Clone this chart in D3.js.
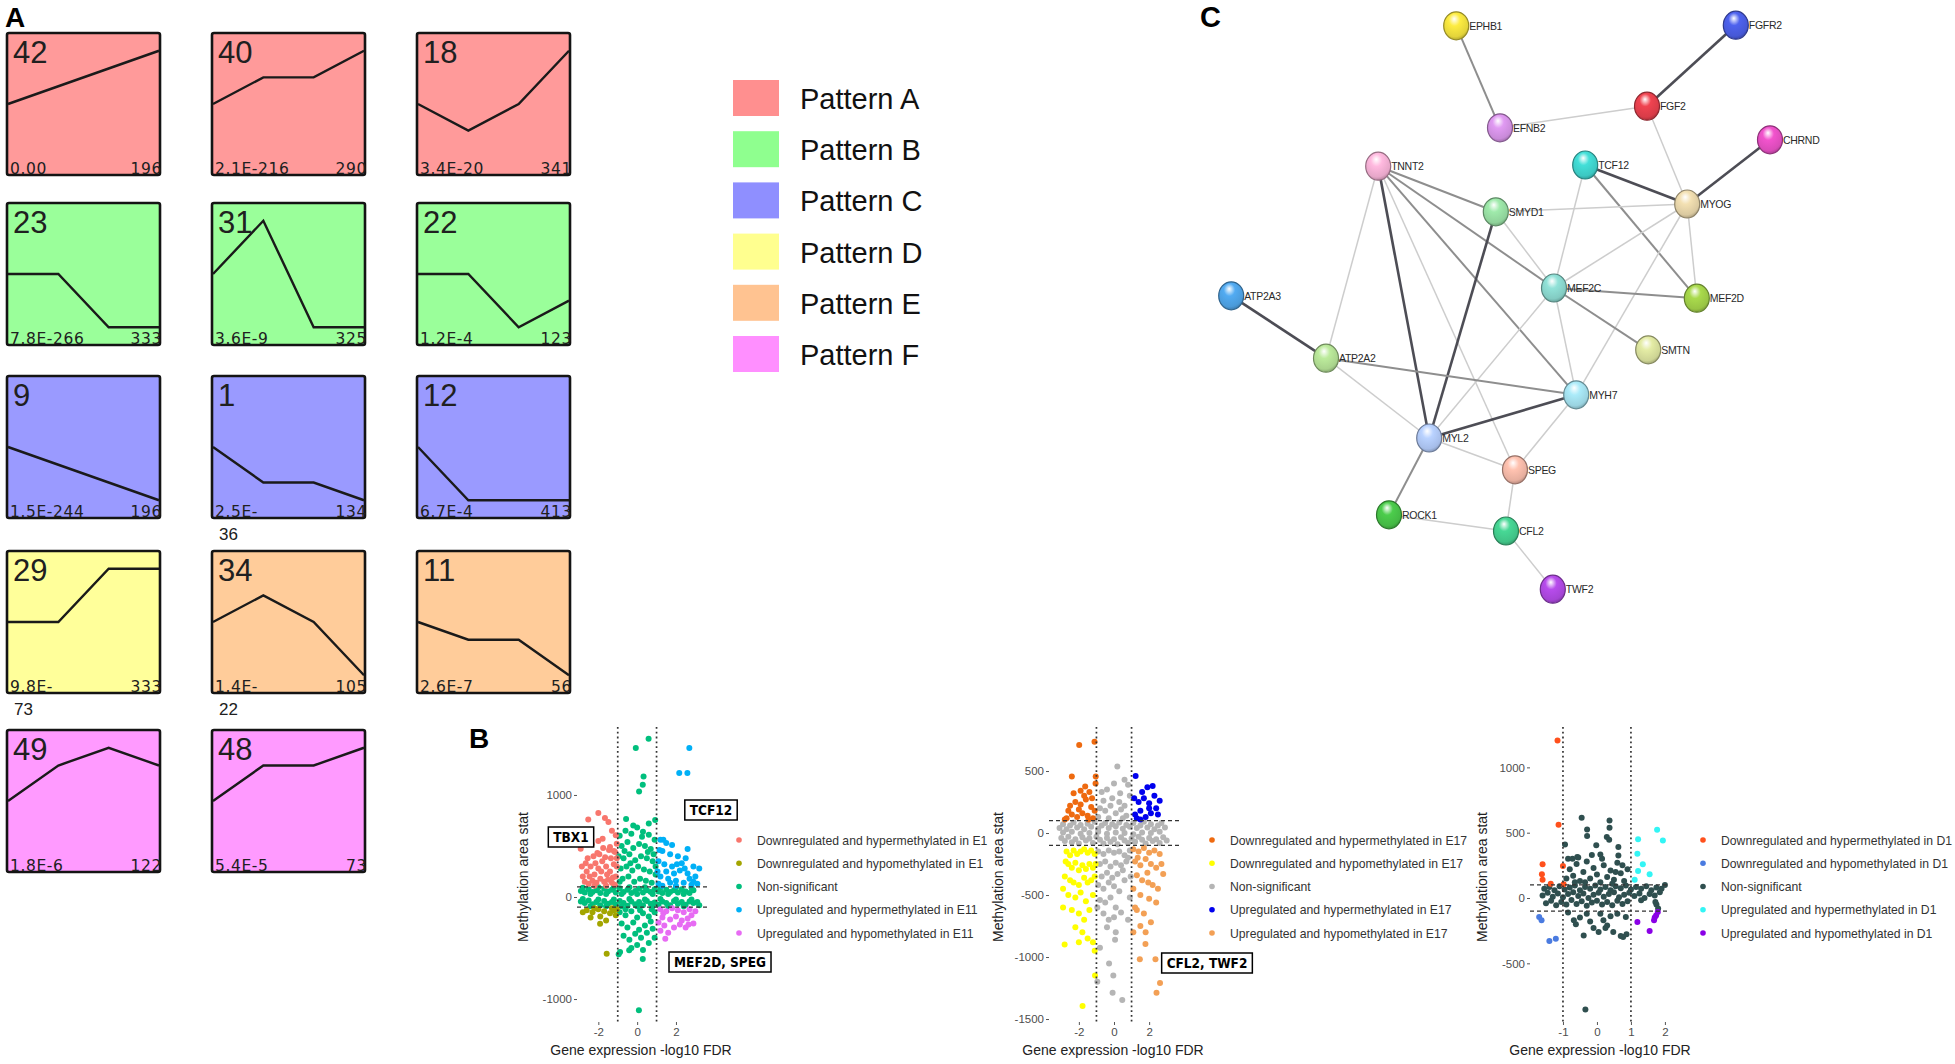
<!DOCTYPE html>
<html>
<head>
<meta charset="utf-8">
<title>Expression patterns, methylation and network</title>
<script src="https://cdn.jsdelivr.net/npm/d3@7"></script>
<style>
  body { margin: 0; background: #fff; }
  svg { display: block; }
</style>
</head>
<body>
<svg id="fig" width="1955" height="1064"></svg>
<script>
// ---------------- data: panel A (STEM profiles) ----------------
const patternNames = ["Pattern A", "Pattern B", "Pattern C", "Pattern D", "Pattern E", "Pattern F"];
const patternFill = ["#ff9a9a", "#9aff9a", "#9a9aff", "#ffff9a", "#ffcc9a", "#ff9aff"];
const patternSwatch = ["#ff8f8f", "#8fff8f", "#8f8fff", "#ffff8f", "#ffc391", "#ff8fff"];

const profileId = [42, 40, 18, 23, 31, 22, 9, 1, 12, 29, 34, 11, 49, 48];
const profilePattern = [0, 0, 0, 1, 1, 1, 2, 2, 2, 3, 4, 4, 5, 5];
const profileValues = [
  [0, 1, 2, 3], [0, 1, 1, 2], [0, -1, 0, 2],
  [0, 0, -1, -1], [0, 1, -1, -1], [0, 0, -2, -1],
  [0, -1, -2, -3], [0, -2, -2, -3], [0, -1, -1, -1],
  [0, 0, 1, 1], [0, 1, 0, -2], [0, -1, -1, -3],
  [0, 2, 3, 2], [0, 2, 2, 3]
];
const profilePval = ["0.00", "2.1E-216", "3.4E-20", "7.8E-266", "3.6E-9", "1.2E-4", "1.5E-244", "2.5E-", "6.7E-4", "9.8E-", "1.4E-", "2.6E-7", "1.8E-6", "5.4E-5"];
const profilePvalWrap = ["", "", "", "", "", "", "", "36", "", "73", "22", "", "", ""];
const profileGenes = [196, 290, 341, 333, 325, 123, 196, 134, 413, 333, 105, 56, 122, 73];

// ---------------- data: panel B (scatter plots) ----------------
const e11Labels = ["Downregulated and hypermethylated in E1", "Downregulated and hypomethylated in E1", "Non-significant", "Upregulated and hypermethylated in E11", "Upregulated and hypomethylated in E11"];
const e11Colors = ["#F8766D", "#A3A500", "#00BF7D", "#00B0F6", "#E76BF3"];
const e11DownHyper = [[-2.0,824],[-2.52,759],[-1.66,775],[-1.48,736],[-1.1,605],[-1.05,523],[-1.78,572],[-2.91,474],[-2.34,517],[-2.05,432],[-1.4,490],[-1.14,441],[-2.8,200],[-2.6,250],[-2.4,300],[-2.2,220],[-2.0,280],[-1.8,350],[-1.6,300],[-1.4,250],[-1.2,320],[-1.1,200],[-2.7,150],[-2.5,130],[-2.3,160],[-2.1,140],[-1.9,180],[-1.7,150],[-1.5,170],[-1.3,140],[-1.15,120],[-2.55,380],[-2.25,400],[-1.95,420],[-1.65,390],[-1.35,380],[-1.2,450],[-2.45,200],[-2.15,330],[-1.85,250],[-1.55,220],[-1.25,190],[-2.85,300],[-1.05,300],[-1.45,460],[-1.75,480],[-2.0,550],[-1.3,650],[-2.65,330],[-1.6,110],[-2.2,110],[-1.05,380]];
const e11DownHypo = [[-2.6,-130],[-2.3,-150],[-2.0,-120],[-1.7,-140],[-1.4,-160],[-1.2,-130],[-2.4,-200],[-1.9,-190],[-1.1,-180],[-1.6,-230],[-1.91,-262],[-1.57,-556],[-1.3,-110],[-2.2,-110],[-2.8,-150],[-1.05,-120]];
const e11NonSig = [[-2.9,60],[-2.7,45],[-2.5,75],[-2.3,50],[-2.1,65],[-1.9,40],[-1.7,80],[-1.5,55],[-1.3,70],[-1.1,45],[-0.9,85],[-0.7,50],[-0.5,70],[-0.3,40],[-0.1,60],[0.1,80],[0.3,45],[0.5,65],[0.7,50],[0.9,75],[1.1,55],[1.3,40],[1.5,70],[1.7,50],[1.9,65],[2.1,45],[2.3,75],[2.5,55],[2.7,40],[2.9,65],[-2.8,90],[-2.4,30],[-2.0,95],[-1.6,30],[-1.2,95],[-0.8,30],[-0.4,95],[0.0,30],[0.4,95],[0.8,30],[1.2,90],[1.6,30],[2.0,95],[2.4,30],[2.8,90],
  [-2.9,-45],[-2.7,-60],[-2.5,-35],[-2.3,-70],[-2.1,-50],[-1.9,-80],[-1.7,-40],[-1.5,-65],[-1.3,-50],[-1.1,-75],[-0.9,-40],[-0.7,-60],[-0.5,-85],[-0.3,-45],[-0.1,-70],[0.1,-50],[0.3,-80],[0.5,-40],[0.7,-65],[0.9,-55],[1.1,-75],[1.3,-45],[1.5,-60],[1.7,-80],[1.9,-40],[2.1,-65],[2.3,-50],[2.5,-75],[2.7,-45],[2.9,-60],[3.1,-50],[-2.8,-20],[-2.4,-90],[-2.0,-25],[-1.6,-90],[-1.2,-25],[-0.8,-90],[-0.4,-20],[0.0,-90],[0.4,-25],[0.8,-90],[1.2,-20],[1.6,-90],[2.0,-25],[2.4,-90],[2.8,-25],[3.2,-80],
  [-0.9,600],[-0.6,650],[-0.3,620],[0.0,680],[0.3,640],[0.6,610],[0.9,560],[-0.8,500],[-0.5,540],[-0.2,480],[0.1,520],[0.4,500],[0.7,470],[-0.95,400],[-0.7,380],[-0.4,420],[-0.1,360],[0.2,400],[0.5,380],[0.8,350],[-0.85,280],[-0.55,300],[-0.25,260],[0.05,300],[0.35,270],[0.65,250],[0.95,220],[-0.75,180],[-0.45,200],[-0.15,150],[0.15,180],[0.45,160],[0.75,140],[-0.65,450],[-0.35,330],[0.25,590],[0.55,440],[0.85,420],[-0.9,150],[0.95,300],[-0.2,700],[0.6,720],
  [-0.9,-150],[-0.6,-180],[-0.3,-140],[0.0,-200],[0.3,-160],[0.6,-190],[0.9,-150],[-0.8,-260],[-0.5,-300],[-0.2,-250],[0.1,-320],[0.4,-280],[0.7,-240],[-0.7,-380],[-0.4,-420],[-0.1,-360],[0.2,-400],[0.5,-350],[0.8,-310],[-0.3,-500],[0.0,-470],[0.3,-520],[0.6,-450],[0.9,-400],[-0.6,-120],[0.15,-130],[0.75,-120],
  [-0.57,764],[0.93,754],[0.59,1551],[-0.07,1460],[0.33,1181],[0.29,1099],[0.1,1033],[0.09,-1109],[0.29,-607],[-0.41,-523],[-0.88,-540],[-0.95,-560]];
const e11UpHyper = [[2.69,1460],[2.17,1214],[2.59,1214],[1.2,560],[1.5,530],[1.8,510],[2.6,470],[1.3,450],[1.7,420],[2.1,400],[2.5,380],[2.9,300],[3.2,280],[1.1,350],[1.4,320],[1.8,300],[2.2,260],[2.6,230],[3.0,200],[1.2,200],[1.6,180],[2.0,160],[2.4,140],[2.8,120],[1.1,130],[1.5,250],[1.9,230],[2.3,330],[2.7,180],[1.3,110],[2.0,110],[3.1,130],[1.15,460],[1.35,560],[2.05,320],[2.45,280],[1.7,140],[2.9,150],[1.05,250]];
const e11UpHypo = [[1.2,-120],[1.5,-140],[1.8,-110],[2.1,-130],[2.4,-150],[2.7,-120],[1.3,-200],[1.7,-220],[2.0,-190],[2.3,-230],[2.6,-210],[2.9,-260],[1.4,-280],[1.9,-300],[2.5,-300],[1.2,-330],[1.6,-350],[2.2,-270],[1.45,-410],[2.8,-180],[1.1,-250],[3.0,-140],[1.35,-160],[2.65,-270]];
const e11Genes = ["TBX1", "TCF12", "MEF2D, SPEG"];

const e17Labels = ["Downregulated and hypermethylated in E17", "Downregulated and hypomethylated in E17", "Non-significant", "Upregulated and hypermethylated in E17", "Upregulated and hypomethylated in E17"];
const e17Colors = ["#EE6A10", "#FFFF00", "#B5B5B5", "#0000EE", "#F3A055"];
const e17DownHyper = [[-1.98,710],[-1.11,736],[-2.4,455],[-1.04,455],[-1.64,376],[-2.7,120],[-2.4,150],[-2.1,130],[-1.8,160],[-1.5,140],[-1.2,120],[-2.5,220],[-2.2,250],[-1.9,230],[-1.6,270],[-1.3,210],[-2.3,320],[-1.7,300],[-1.4,330],[-2.0,190],[-1.1,180],[-2.6,180],[-1.9,340],[-1.25,280],[-1.05,400],[-2.8,110],[-1.45,110]];
const e17DownHypo = [[-2.9,-450],[-2.7,-150],[-2.5,-180],[-2.3,-140],[-2.1,-170],[-1.9,-150],[-1.7,-130],[-1.5,-160],[-1.3,-140],[-1.1,-170],[-2.6,-250],[-2.4,-280],[-2.2,-240],[-2.0,-300],[-1.8,-260],[-1.6,-290],[-1.4,-250],[-1.2,-280],[-2.8,-350],[-2.5,-380],[-2.3,-400],[-2.0,-420],[-1.7,-360],[-1.5,-400],[-1.3,-380],[-1.1,-350],[-2.6,-500],[-2.2,-520],[-1.9,-480],[-1.6,-550],[-1.2,-500],[-2.9,-600],[-2.4,-620],[-2.0,-650],[-1.7,-700],[-1.4,-620],[-2.2,-760],[-1.8,-800],[-1.5,-850],[-2.81,-900],[-1.2,-880],[-1.79,-1394],[-1.08,-1150],[-1.1,-950],[-2.0,-880],[-2.75,-230],[-1.05,-250]];
const e17NonSig = [[-3.1,40],[-2.9,70],[-2.7,30],[-2.5,60],[-2.3,85],[-2.1,45],[-1.9,65],[-1.7,30],[-1.5,75],[-1.3,50],[-1.1,90],[-0.9,35],[-0.7,60],[-0.5,80],[-0.3,40],[-0.1,70],[0.1,55],[0.3,85],[0.5,35],[0.7,65],[0.9,50],[1.1,80],[1.3,40],[1.5,60],[1.7,90],[1.9,45],[2.1,70],[2.3,30],[2.5,60],[2.7,80],[2.9,45],
  [-3.0,-40],[-2.8,-65],[-2.6,-30],[-2.4,-75],[-2.2,-50],[-2.0,-85],[-1.8,-35],[-1.6,-60],[-1.4,-45],[-1.2,-80],[-1.0,-30],[-0.8,-55],[-0.6,-85],[-0.4,-40],[-0.2,-70],[0.0,-50],[0.2,-90],[0.4,-35],[0.6,-60],[0.8,-80],[1.0,-45],[1.2,-70],[1.4,-30],[1.6,-55],[1.8,-85],[2.0,-40],[2.2,-65],[2.4,-50],[2.6,-80],[2.8,-35],[3.0,-60],
  [-2.9,5],[-2.4,10],[-1.9,-5],[-1.4,0],[-0.9,10],[-0.4,-5],[0.1,5],[0.6,0],[1.1,-10],[1.6,5],[2.1,0],[2.6,10],
  [-0.7,330],[-0.4,350],[-0.1,280],[0.3,250],[0.6,220],[0.9,300],[-0.8,200],[-0.5,180],[-0.2,220],[0.1,160],[0.4,190],[0.7,140],[-0.9,130],[-0.3,120],[0.5,120],[0.19,537],[0.6,430],[0.8,390],[-0.6,260],[0.0,400],[0.35,320],
  [-0.9,-150],[-0.6,-170],[-0.3,-140],[0.0,-160],[0.3,-150],[0.6,-180],[0.9,-140],[-0.8,-250],[-0.5,-230],[-0.2,-270],[0.1,-240],[0.4,-260],[0.7,-230],[-0.7,-350],[-0.4,-320],[-0.1,-360],[0.2,-330],[0.5,-300],[-0.9,-420],[-0.6,-450],[-0.3,-400],[0.0,-430],[0.3,-470],[-0.8,-540],[-0.5,-560],[-0.2,-520],[0.1,-600],[-0.6,-650],[-0.3,-700],[0.0,-680],[0.4,-640],[-0.4,-760],[0.1,-800],[0.06,-860],[0.8,-700],[-0.8,-926],[-0.28,-1052],[-0.04,-1150],[-0.08,-1289],[0.47,-1347],[-0.95,-1200],[0.8,-200],[0.95,-350],[0.6,-380],[-0.95,-600],[0.9,-520]];
const e17UpHyper = [[1.23,460],[1.2,150],[1.5,180],[1.8,130],[2.1,160],[2.4,200],[1.4,250],[1.7,280],[2.0,240],[2.3,300],[2.6,260],[1.6,330],[1.9,370],[2.2,380],[1.3,120],[2.0,200],[1.5,110],[1.15,280],[2.5,150]];
const e17UpHypo = [[1.1,-130],[1.4,-150],[1.7,-120],[2.0,-160],[2.3,-140],[2.6,-170],[1.2,-230],[1.5,-260],[1.8,-210],[2.1,-250],[2.4,-280],[2.8,-330],[1.3,-340],[1.6,-380],[1.9,-320],[2.2,-420],[2.5,-450],[1.1,-450],[1.5,-500],[2.0,-530],[2.4,-560],[1.3,-620],[1.7,-650],[2.1,-720],[1.5,-750],[1.8,-800],[1.79,-894],[1.47,-1018],[2.36,-1018],[2.62,-1210],[2.42,-1289],[1.2,-600],[1.1,-800],[2.7,-250],[1.35,-200],[1.95,-400]];
const e17Genes = ["CFL2, TWF2"];

const d1Labels = ["Downregulated and hypermethylated in D1", "Downregulated and hypomethylated in D1", "Non-significant", "Upregulated and hypermethylated in D1", "Upregulated and hypomethylated in D1"];
const d1Colors = ["#FF501C", "#4A7BE0", "#2F4F4F", "#33F5F5", "#8A00E6"];
const d1DownHyper = [[-1.16,1206],[-1.13,561],[-1.6,258],[-1.62,181],[-1.36,110],[-1.6,140],[-1.0,245],[-0.98,105]];
const d1DownHypo = [[-1.7,-145],[-1.63,-171],[-1.4,-329],[-1.21,-311]];
const d1NonSig = [[-1.55,70],[-1.4,85],[-1.25,60],[-1.1,90],[-0.95,65],[-0.8,80],[-0.65,95],[-0.5,60],[-0.35,85],[-0.2,70],[-0.05,95],[0.1,65],[0.25,85],[0.4,60],[0.55,90],[0.7,75],[0.85,95],[1.0,65],[1.15,85],[1.3,70],[1.45,90],[1.6,60],[1.75,80],[1.9,70],[2.0,100],
  [-1.6,20],[-1.45,40],[-1.3,10],[-1.15,35],[-1.0,5],[-0.85,30],[-0.7,45],[-0.55,15],[-0.4,35],[-0.25,0],[-0.1,25],[0.05,40],[0.2,10],[0.35,30],[0.5,45],[0.65,5],[0.8,25],[0.95,40],[1.1,15],[1.25,35],[1.4,0],[1.55,30],[1.7,20],[1.85,45],
  [-1.5,-40],[-1.35,-20],[-1.2,-55],[-1.05,-30],[-0.9,-50],[-0.75,-15],[-0.6,-45],[-0.45,-25],[-0.3,-60],[-0.15,-35],[0.0,-20],[0.15,-50],[0.3,-30],[0.45,-55],[0.6,-20],[0.75,-45],[0.9,-25],[1.3,-18],[1.75,-50],[1.8,-80],[1.72,-30],
  [-0.9,150],[-0.8,220],[-0.7,170],[-0.6,260],[-0.5,130],[-0.4,200],[-0.3,280],[-0.2,150],[-0.1,230],[0.0,180],[0.1,120],[0.2,250],[0.3,160],[0.4,210],[0.5,140],[0.6,270],[0.7,190],[0.8,130],[0.9,220],[-0.85,300],[-0.55,310],[-0.35,120],[0.15,300],[0.45,110],[0.75,250],[-0.45,615],[-0.29,525],[-0.29,474],[-0.94,410],[-0.02,403],[0.1,334],[0.37,594],[0.37,538],[0.29,467],[0.36,446],[0.63,390],[0.63,326],[-0.58,314],[-0.72,301],[-0.65,120],[0.55,200],[-0.15,330],
  [-0.68,-171],[-0.62,-200],[-0.39,-286],[-0.3,-120],[-0.1,-230],[0.05,-260],[0.19,-171],[0.3,-210],[0.48,-260],[0.6,-120],[0.77,-298],[0.87,-278],[0.85,-145],[-0.5,-150],[0.1,-120],[-0.34,-854],[-0.85,-110],[-0.2,-180],[0.7,-290],[0.4,-140],[0.25,-230]];
const d1UpHyper = [[1.77,523],[1.94,441],[1.21,449],[1.19,339],[1.35,258],[1.21,207],[1.55,181],[1.11,140]];
const d1UpHypo = [[1.19,-184],[1.55,-252],[1.68,-171],[1.74,-133],[1.79,-107],[1.7,-150]];

// ---------------- data: panel C (STRING network) ----------------
const geneNames = ["EPHB1","FGFR2","FGF2","EFNB2","CHRND","TNNT2","TCF12","MYOG","SMYD1","ATP2A3","MEF2C","MEF2D","SMTN","ATP2A2","MYH7","MYL2","SPEG","ROCK1","CFL2","TWF2"];
// layout units (0-100)
const geneX = [42.7, 89.3, 74.5, 50.0, 95.0, 29.7, 64.2, 81.2, 49.3, 5.2, 59.0, 82.8, 74.7, 21.0, 62.7, 38.2, 52.5, 31.5, 51.0, 58.8];
const geneY = [4.3, 4.2, 17.7, 21.3, 23.3, 27.7, 27.5, 34.0, 35.3, 49.3, 48.0, 49.7, 58.3, 59.7, 65.8, 73.0, 78.3, 85.8, 88.5, 98.2];
const geneColors = ["#e3d43a","#4658d6","#d83c48","#c98ad9","#d94bb8","#e6a6c8","#3cc8c2","#dac9a0","#8fd29a","#4a9ad9","#82cbc2","#98c444","#cdd494","#a9d38c","#9ad3e0","#a6bde9","#e6ae9e","#44b844","#40c286","#a444d4"];
const edgeFrom = ["EPHB1","FGFR2","EFNB2","FGF2","CHRND","TCF12","TCF12","TCF12","MYOG","MYOG","MYOG","MYOG","TNNT2","TNNT2","TNNT2","TNNT2","TNNT2","TNNT2","SMYD1","SMYD1","MEF2C","MEF2C","MEF2C","MEF2C","ATP2A3","ATP2A2","ATP2A2","MYL2","MYL2","MYL2","MYH7","SPEG","ROCK1","CFL2"];
const edgeTo   = ["EFNB2","FGF2","FGF2","MYOG","MYOG","MYOG","MEF2D","MEF2C","SMYD1","MEF2C","MEF2D","MYH7","SMYD1","MEF2C","MYH7","MYL2","ATP2A2","SPEG","MYL2","MEF2C","MEF2D","SMTN","MYL2","MYH7","ATP2A2","MYH7","MYL2","MYH7","SPEG","ROCK1","SPEG","CFL2","CFL2","TWF2"];
const edgeScore = [2,3,1,1,3,3,2,1,1,1,1,1,2,2,2,3,1,1,3,1,2,2,1,1,3,2,1,3,1,2,1,1,1,1];

// ---------------- drawing ----------------
const svg = d3.select("#fig");
const defs = svg.append("defs");

function panelLabel(t, x, y, size) {
  svg.append("text").attr("x", x).attr("y", y).text(t)
    .style("font-family", "Liberation Sans, Arial, sans-serif")
    .style("font-weight", "bold").style("font-size", size + "px").attr("fill", "#000");
}
panelLabel("A", 5, 27, 28);
panelLabel("B", 469, 748, 28);
panelLabel("C", 1200, 27, 29);

// ----- panel A boxes -----
const boxW = 153, boxH = 142;
const colX = d3.scalePoint().domain([0, 1, 2]).range([7, 417]);
const rowY = [33, 203, 376, 551, 730];

const boxes = svg.append("g").attr("class", "profiles");
profileId.forEach((id, i) => {
  const bx = colX(i % 3), by = rowY[Math.floor(i / 3)];
  const g = boxes.append("g");
  g.append("rect").attr("x", bx).attr("y", by).attr("width", boxW).attr("height", boxH)
    .attr("rx", 2).attr("fill", patternFill[profilePattern[i]])
    .attr("stroke", "#141414").attr("stroke-width", 2.6);
  const vals = profileValues[i];
  const m = d3.max(vals, v => Math.abs(v));
  const x = d3.scalePoint().domain(d3.range(vals.length)).range([bx + 1, bx + boxW - 1]);
  const y = d3.scaleLinear().domain([-m, m]).range([by + boxH * 0.875, by + boxH * 0.125]);
  g.append("path").datum(vals)
    .attr("d", d3.line().x((d, k) => x(k)).y(d => y(d)))
    .attr("fill", "none").attr("stroke", "#1a1a1a").attr("stroke-width", 2.4);
  g.append("text").attr("x", bx + 6).attr("y", by + 30).text(id)
    .style("font-family", "Liberation Sans, Arial, sans-serif").style("font-size", "31px").attr("fill", "#202020");
  const small = sel => sel.style("font-family", "DejaVu Sans, Verdana, sans-serif")
    .style("font-size", "15.5px").style("letter-spacing", "0.6px").attr("fill", "#202020");
  g.append("text").attr("x", bx + 3).attr("y", by + boxH - 1).text(profilePval[i]).call(small);
  g.append("text").attr("x", bx + boxW + 2).attr("y", by + boxH - 1).attr("text-anchor", "end")
    .text(profileGenes[i]).call(small);
  if (profilePvalWrap[i]) {
    g.append("text").attr("x", bx + 7).attr("y", by + boxH + 22).text(profilePvalWrap[i])
      .style("font-family", "Liberation Sans, Arial, sans-serif").style("font-size", "17px").attr("fill", "#202020");
  }
});

// pattern legend
const legY = d3.scalePoint().domain(patternNames).range([80, 336]);
const pleg = svg.append("g").attr("class", "pattern-legend");
patternNames.forEach((p, i) => {
  pleg.append("rect").attr("x", 733).attr("y", legY(p)).attr("width", 46).attr("height", 36)
    .attr("fill", patternSwatch[i]);
  pleg.append("text").attr("x", 800).attr("y", legY(p) + 29).text(p)
    .style("font-family", "Liberation Sans, Arial, sans-serif").style("font-size", "29px").attr("fill", "#111");
});

// ----- panel B scatter plots -----
function scatter(cfg) {
  const g = svg.append("g");
  const x = d3.scaleLinear().domain(cfg.xDomain).range(cfg.xRange);
  const y = d3.scaleLinear().domain(cfg.yDomain).range([1022, 727]);
  const font = "Liberation Sans, Arial, sans-serif";

  // points: non-significant first, then the significant groups
  const order = [2, 0, 1, 3, 4];
  order.forEach(k => {
    g.append("g").selectAll("circle").data(cfg.series[k]).join("circle")
      .attr("cx", d => x(d[0])).attr("cy", d => y(d[1])).attr("r", 3)
      .attr("fill", cfg.colors[k]);
  });

  // threshold lines
  [-1, 1].forEach(v => g.append("line")
    .attr("x1", x(v)).attr("x2", x(v)).attr("y1", y.range()[1]).attr("y2", y.range()[0])
    .attr("stroke", "#333").attr("stroke-width", 1.7).attr("stroke-dasharray", "1.8,3"));
  [-100, 100].forEach(v => g.append("line")
    .attr("x1", x.range()[0]).attr("x2", x.range()[1]).attr("y1", y(v)).attr("y2", y(v))
    .attr("stroke", "#333").attr("stroke-width", 1.3).attr("stroke-dasharray", "4,3"));

  // axes without axis lines (ggplot style)
  const xa = g.append("g").attr("transform", "translate(0,1022)")
    .call(d3.axisBottom(x).tickValues(cfg.xTicks).tickSize(3).tickPadding(3).tickFormat(d => String(d)));
  const ya = g.append("g").attr("transform", `translate(${x.range()[0]},0)`)
    .call(d3.axisLeft(y).tickValues(cfg.yTicks).tickSize(3).tickPadding(2).tickFormat(d => String(d)));
  [xa, ya].forEach(a => {
    a.select(".domain").remove();
    a.selectAll("line").attr("stroke", "#555");
    a.selectAll("text").style("font-family", font).style("font-size", "11.5px").attr("fill", "#4d4d4d");
  });

  g.append("text").attr("x", cfg.xTitleX).attr("y", 1055).attr("text-anchor", "middle")
    .text("Gene expression -log10 FDR")
    .style("font-family", font).style("font-size", "14px").attr("fill", "#222");
  g.append("text").attr("transform", `translate(${cfg.yTitleX},877) rotate(-90)`).attr("text-anchor", "middle")
    .text("Methylation area stat")
    .style("font-family", font).style("font-size", "14px").attr("fill", "#222");

  // legend
  const ly = d3.scalePoint().domain(d3.range(5)).range([840, 933]);
  cfg.labels.forEach((lab, k) => {
    g.append("circle").attr("cx", cfg.legendX).attr("cy", ly(k)).attr("r", 2.8).attr("fill", cfg.colors[k]);
    g.append("text").attr("x", cfg.legendX + 18).attr("y", ly(k) + 4.5).text(lab)
      .style("font-family", font).style("font-size", "12.2px").attr("fill", "#333");
  });

  // gene annotation boxes
  cfg.genes.forEach((txt, k) => {
    const [cx, cy] = cfg.genePos[k];
    const ag = g.append("g").attr("class", "gene-label");
    const t = ag.append("text").attr("x", cx).attr("y", cy + 5).attr("text-anchor", "middle").text(txt)
      .style("font-family", "Liberation Sans Narrow, DejaVu Sans Condensed, Arial Narrow, sans-serif")
      .style("font-weight", "bold").style("font-size", "13.5px").attr("fill", "#000");
    const bb = t.node().getBBox();
    ag.insert("rect", ":first-child").attr("x", bb.x - 5).attr("y", cy - 10).attr("width", bb.width + 10).attr("height", 20)
      .attr("fill", "#fff").attr("stroke", "#000").attr("stroke-width", 1.5);
  });
}

scatter({
  xDomain: [-3.1, 3.6], xRange: [577, 707], yDomain: [-1225, 1666],
  xTicks: [-2, 0, 2], yTicks: [-1000, 0, 1000],
  series: [e11DownHyper, e11DownHypo, e11NonSig, e11UpHyper, e11UpHypo],
  colors: e11Colors, labels: e11Labels, legendX: 739,
  xTitleX: 641, yTitleX: 528,
  genes: e11Genes, genePos: [[571, 837], [711, 810], [720, 962]]
});
scatter({
  xDomain: [-3.7, 3.7], xRange: [1049, 1179], yDomain: [-1524, 855],
  xTicks: [-2, 0, 2], yTicks: [-1500, -1000, -500, 0, 500],
  series: [e17DownHyper, e17DownHypo, e17NonSig, e17UpHyper, e17UpHypo],
  colors: e17Colors, labels: e17Labels, legendX: 1212,
  xTitleX: 1113, yTitleX: 1003,
  genes: e17Genes, genePos: [[1207, 963]]
});
scatter({
  xDomain: [-1.97, 2.12], xRange: [1530, 1669], yDomain: [-949, 1309],
  xTicks: [-1, 0, 1, 2], yTicks: [-500, 0, 500, 1000],
  series: [d1DownHyper, d1DownHypo, d1NonSig, d1UpHyper, d1UpHypo],
  colors: d1Colors, labels: d1Labels, legendX: 1703,
  xTitleX: 1600, yTitleX: 1487,
  genes: [], genePos: []
});

// ----- panel C network -----
const nx = d3.scaleLinear().domain([0, 100]).range([1200, 1800]);
const ny = d3.scaleLinear().domain([0, 100]).range([0, 600]);
const idx = new Map(geneNames.map((g, i) => [g, i]));
const edgeColor = d3.scaleOrdinal().domain([1, 2, 3]).range(["#cdcdcd", "#8e8e8e", "#4d4d55"]);
const edgeWidth = d3.scaleOrdinal().domain([1, 2, 3]).range([1.5, 2, 2.6]);

const net = svg.append("g").attr("class", "network");
net.append("g").selectAll("line").data(d3.range(edgeFrom.length)).join("line")
  .attr("x1", k => nx(geneX[idx.get(edgeFrom[k])])).attr("y1", k => ny(geneY[idx.get(edgeFrom[k])]))
  .attr("x2", k => nx(geneX[idx.get(edgeTo[k])])).attr("y2", k => ny(geneY[idx.get(edgeTo[k])]))
  .attr("stroke", k => edgeColor(edgeScore[k])).attr("stroke-width", k => edgeWidth(edgeScore[k]));

geneNames.forEach((g, i) => {
  const c = d3.color(geneColors[i]);
  const grad = defs.append("radialGradient").attr("id", "gl" + i)
    .attr("cx", "45%").attr("cy", "35%").attr("r", "65%").attr("fx", "42%").attr("fy", "25%");
  grad.append("stop").attr("offset", "0%").attr("stop-color", "#ffffff");
  grad.append("stop").attr("offset", "35%").attr("stop-color", c.brighter(0.3).formatHex());
  grad.append("stop").attr("offset", "85%").attr("stop-color", c.formatHex());
  grad.append("stop").attr("offset", "100%").attr("stop-color", c.darker(0.6).formatHex());
});

const nodes = net.append("g").selectAll("g").data(geneNames).join("g")
  .attr("transform", (d, i) => `translate(${nx(geneX[i])},${ny(geneY[i])})`);
nodes.append("ellipse").attr("rx", 12.5).attr("ry", 14)
  .attr("fill", (d, i) => `url(#gl${i})`)
  .attr("stroke", (d, i) => d3.color(geneColors[i]).darker(1.2).formatHex()).attr("stroke-width", 1.2);
nodes.append("text").attr("x", 13).attr("y", 4).text(d => d)
  .style("font-family", "Liberation Sans, Arial, sans-serif").style("font-size", "10.5px")
  .style("letter-spacing", "-0.3px").attr("fill", "#2a2a2a");
</script>
</body>
</html>
